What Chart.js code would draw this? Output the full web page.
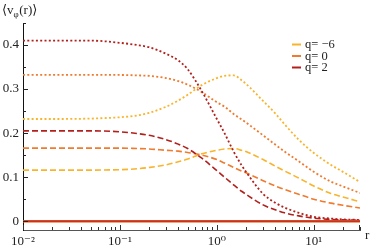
<!DOCTYPE html>
<html>
<head>
<meta charset="utf-8">
<script src="https://cdn.jsdelivr.net/npm/chart.js@4.4.1/dist/chart.umd.min.js"></script>
<style>
  html, body { margin: 0; padding: 0; background: #fff; }
  #wrap { width: 374px; height: 252px; }
</style>
</head>
<body>
<div id="wrap"><canvas id="chart" width="374" height="252"></canvas></div>
<script>
// radius samples (log axis)
const radii = [0.01, 0.02, 0.05, 0.1, 0.15, 0.2, 0.3, 0.4, 0.5, 0.7, 1, 1.2, 1.5, 1.8, 2, 3, 4, 5, 7, 10, 15, 20, 30];

// dotted curves
const qm6Dotted = [0.232, 0.232, 0.233, 0.236, 0.240, 0.246, 0.260, 0.274, 0.287, 0.309, 0.325, 0.330, 0.331, 0.320, 0.312, 0.273, 0.245, 0.220, 0.185, 0.155, 0.128, 0.112, 0.089];
const q0Dotted  = [0.332, 0.332, 0.332, 0.332, 0.331, 0.330, 0.325, 0.318, 0.310, 0.293, 0.270, 0.260, 0.243, 0.231, 0.224, 0.195, 0.174, 0.158, 0.136, 0.112, 0.090, 0.079, 0.064];
const q2Dotted  = [0.410, 0.410, 0.410, 0.405, 0.400, 0.395, 0.380, 0.365, 0.345, 0.295, 0.232, 0.200, 0.157, 0.127, 0.112, 0.062, 0.042, 0.031, 0.019, 0.010, 0.006, 0.004, 0.003];

// dashed curves
const qm6Dashed = [0.116, 0.116, 0.116, 0.117, 0.119, 0.122, 0.128, 0.135, 0.141, 0.153, 0.161, 0.164, 0.165, 0.161, 0.158, 0.140, 0.125, 0.114, 0.098, 0.080, 0.063, 0.055, 0.044];
const q0Dashed  = [0.166, 0.166, 0.166, 0.166, 0.165, 0.164, 0.161, 0.159, 0.156, 0.150, 0.140, 0.132, 0.122, 0.114, 0.110, 0.092, 0.080, 0.072, 0.061, 0.050, 0.041, 0.036, 0.030];
const q2Dashed  = [0.205, 0.205, 0.205, 0.203, 0.199, 0.195, 0.185, 0.175, 0.165, 0.143, 0.115, 0.100, 0.082, 0.068, 0.061, 0.037, 0.026, 0.019, 0.012, 0.007, 0.004, 0.003, 0.002];

// solid curves (all zero)
const qm6Solid = radii.map(() => 0);
const q0Solid  = radii.map(() => 0);
const q2Solid  = radii.map(() => 0);

const legendLabels = ['q= \u22126', 'q= 0', 'q= 2'];
const xTicks = [0.01, 0.1, 1, 10];
const xTickLabels = ['10\u207B\u00B2', '10\u207B\u00B9', '10\u2070', '10\u00B9'];
const yTicks = [0, 0.1, 0.2, 0.3, 0.4];
const yTickLabels = ['0', '0.1', '0.2', '0.3', '0.4'];
const yMinor = [0.05, 0.15, 0.25, 0.35, 0.45];

const GOLD = '#f9b42c';
const ORANGE = '#f07a2e';
const RED = '#b3201c';
const ZERO_RED = '#c8321f';
const FONT = '"Liberation Serif", "DejaVu Serif", serif';

function pts(vals) {
  return radii.map((r, i) => ({ x: r, y: vals[i] }));
}

function line(vals, color, dash, width) {
  return {
    data: pts(vals),
    borderColor: color,
    borderWidth: width,
    borderDash: dash,
    pointRadius: 0,
    fill: false,
    cubicInterpolationMode: 'monotone'
  };
}

// Chart.js paints dataset 0 last (on top)
const datasets = [
  line(q2Solid, ZERO_RED, [], 2),
  line(q0Solid, ORANGE, [], 2),
  line(qm6Solid, GOLD, [], 2),
  line(q2Dotted, RED, [2, 2.3], 1.8),
  line(q0Dotted, ORANGE, [2, 2.3], 1.8),
  line(qm6Dotted, GOLD, [2, 2.3], 1.8),
  line(q2Dashed, RED, [6, 3], 1.6),
  line(q0Dashed, ORANGE, [6, 3], 1.6),
  line(qm6Dashed, GOLD, [6, 3], 1.6)
];

// inward ticks, axis titles and legend
const extras = {
  id: 'extras',
  afterDraw(chart) {
    const ctx = chart.ctx;
    const xs = chart.scales.x, ys = chart.scales.y;
    const area = chart.chartArea;
    ctx.save();
    ctx.lineWidth = 1;
    ctx.strokeStyle = '#222';
    // y ticks
    yTicks.forEach(v => {
      const y = Math.round(ys.getPixelForValue(v)) + 0.5;
      ctx.beginPath(); ctx.moveTo(area.left, y); ctx.lineTo(area.left + 5, y); ctx.stroke();
    });
    yMinor.forEach(v => {
      const y = Math.round(ys.getPixelForValue(v)) + 0.5;
      ctx.beginPath(); ctx.moveTo(area.left, y); ctx.lineTo(area.left + 3, y); ctx.stroke();
    });
    // x ticks
    ctx.strokeStyle = '#333';
    for (let d = -2; d <= 1; d++) {
      for (let m = 1; m <= 9; m++) {
        const v = m * Math.pow(10, d);
        if (v > xs.max + 1e-9) continue;
        const x = Math.round(xs.getPixelForValue(v)) + 0.5;
        const len = m === 1 ? 5 : 3;
        ctx.beginPath(); ctx.moveTo(x, area.bottom); ctx.lineTo(x, area.bottom - len); ctx.stroke();
      }
    }
    const xe = Math.round(xs.getPixelForValue(xs.max)) - 0.5;
    ctx.beginPath(); ctx.moveTo(xe, area.bottom); ctx.lineTo(xe, area.bottom - 5); ctx.stroke();

    // y title <v_phi(r)>
    ctx.fillStyle = '#222';
    ctx.textBaseline = 'alphabetic';
    ctx.textAlign = 'left';
    ctx.font = '13px ' + FONT;
    let tx = 2;
    ctx.fillText('\u27E8v', tx, 14);
    tx += ctx.measureText('\u27E8v').width;
    ctx.font = '9px ' + FONT;
    ctx.fillText('\u03C6', tx, 17);
    tx += ctx.measureText('\u03C6').width + 0.5;
    ctx.font = '13px ' + FONT;
    ctx.fillText('(r)\u27E9', tx, 14);

    // x title
    ctx.fillText('r', 365, 239);

    // legend
    const colors = [GOLD, ORANGE, RED];
    ctx.font = '12.5px ' + FONT;
    legendLabels.forEach((lab, i) => {
      const y = 48 + i * 11.5;
      ctx.strokeStyle = colors[i];
      ctx.lineWidth = 2;
      ctx.beginPath(); ctx.moveTo(292, y - 3.5); ctx.lineTo(301, y - 3.5); ctx.stroke();
      ctx.fillStyle = '#222';
      ctx.fillText(lab, 305, y);
    });
    ctx.restore();
  }
};

new Chart(document.getElementById('chart'), {
  type: 'line',
  data: { datasets },
  options: {
    responsive: false,
    animation: false,
    layout: { padding: { left: 0, top: 23, right: 14, bottom: 0 } },
    plugins: { legend: { display: false }, tooltip: { enabled: false } },
    scales: {
      x: {
        type: 'logarithmic',
        min: 0.01,
        max: 30,
        afterBuildTicks: s => { s.ticks = xTicks.map(v => ({ value: v })); },
        afterFit: s => { s.height = 22; },
        grid: { display: false, drawTicks: false },
        border: { display: true, color: '#555', width: 1 },
        ticks: {
          padding: 4,
          maxRotation: 0,
          autoSkip: false,
          color: '#222',
          font: { family: FONT, size: 13 },
          callback: (v) => {
            const i = xTicks.findIndex(t => Math.abs(t - v) / t < 1e-6);
            return i >= 0 ? xTickLabels[i] : '';
          }
        }
      },
      y: {
        type: 'linear',
        min: -0.02,
        max: 0.45,
        afterBuildTicks: s => { s.ticks = yTicks.map(v => ({ value: v })); },
        afterFit: s => { s.width = 23; },
        grid: { display: false, drawTicks: false },
        border: { display: true, color: '#111', width: 1 },
        ticks: {
          padding: 4,
          color: '#222',
          font: { family: FONT, size: 13 },
          callback: (v) => {
            const i = yTicks.findIndex(t => Math.abs(t - v) < 1e-9);
            return i >= 0 ? yTickLabels[i] : '';
          }
        }
      }
    }
  },
  plugins: [extras]
});
</script>
</body>
</html>
